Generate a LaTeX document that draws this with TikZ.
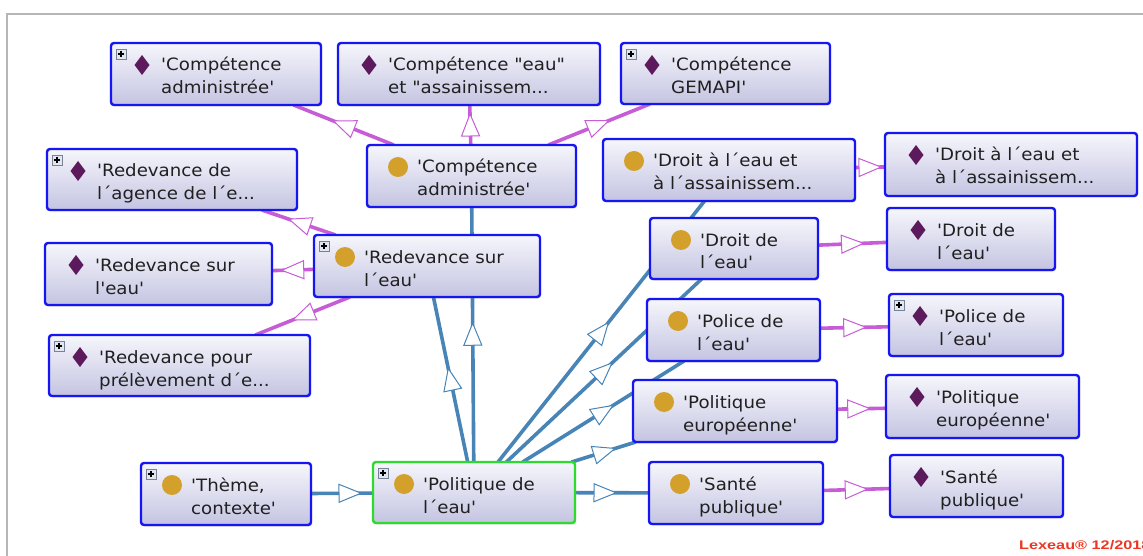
\documentclass[tikz,border=0pt]{standalone}
\usepackage{fontspec}
\newfontfamily\nf{DejaVu Sans}[Ligatures=TeXOff, FakeStretch=1.07]
\newfontfamily\lxf{Liberation Sans}[FakeStretch=1.3]
\usetikzlibrary{calc,backgrounds,shadows}
\definecolor{edgeblue}{RGB}{72,132,182}
\definecolor{edgepurple}{RGB}{198,92,214}
\definecolor{borderblue}{RGB}{22,22,242}
\definecolor{bordergreen}{RGB}{44,220,44}
\definecolor{goldc}{RGB}{212,160,44}
\definecolor{diamc}{RGB}{92,26,92}
\definecolor{textc}{RGB}{32,32,32}
\definecolor{framec}{RGB}{182,182,182}
\definecolor{lexred}{RGB}{235,55,35}
\definecolor{boxtop}{RGB}{246,246,252}
\definecolor{boxbot}{RGB}{196,196,226}
\tikzset{
  obox/.style={draw=borderblue, line width=2.4pt, rounded corners=3pt,
    top color=boxtop, bottom color=boxbot,
    inner sep=0pt, outer sep=0pt,
    drop shadow={shadow xshift=1pt, shadow yshift=-1.5pt, opacity=0.25}},
  greenb/.style={draw=bordergreen},
  blueb/.style={},
  otext/.style={font=\nf\fontsize{17}{23}\selectfont, align=left, inner sep=0pt, text=textc},
  bl/.style={draw=edgeblue, line width=3.6pt},
  pu/.style={draw=edgepurple, line width=3.6pt},
}
\newcommand{\iconcirc}[1]{\fill[goldc] ([shift={(31,22)}]#1.north west) circle (10);}
\newcommand{\icondiam}[1]{\fill[diamc] ([shift={(31,12)}]#1.north west) -- ++(7.5,10) -- ++(-7.5,10) -- ++(-7.5,-10) -- cycle;}
\newcommand{\plusbox}[1]{%
  \draw[line width=0.8pt, draw={rgb,255:red,120;green,130;blue,150}, fill={rgb,255:red,225;green,230;blue,240}]
    ([shift={(5,6)}]#1.north west) rectangle ++(10,10);
  \draw[line width=1.4pt, black] ([shift={(6.8,11)}]#1.north west) -- ++(6.4,0)
    ([shift={(10,7.8)}]#1.north west) -- ++(0,6.4);}
\newcommand{\ocls}[9]{%
  \pgfmathsetmacro\ow{#4-#2}\pgfmathsetmacro\oh{#5-#3}%
  \node[obox,#6,minimum width=\ow pt,minimum height=\oh pt,anchor=north west] (#1) at (#2,#3) {};
  \node[otext, anchor=base west] (#1-t) at ([shift={(50,51)}]#1.north west) {#9};
  \csname icon#7\endcsname{#1}%
  \ifnum#8=1 \plusbox{#1}\fi}
\newcommand{\midtri}[3]{%
  \path ($(#2.center)!0.5!(#3.center)$) coordinate (mm);
  \path ($(mm)!-11pt!(#3.center)$) coordinate (mb);
  \filldraw[draw=#1, fill=white, line width=1pt, line join=miter]
    ($(mm)!11pt!(#3.center)$) -- ($(mb)!9pt!90:(#3.center)$) -- ($(mb)!9pt!-90:(#3.center)$) -- cycle;}
\begin{document}
\begin{tikzpicture}[x=1pt,y=-1pt]
\useasboundingbox (0,0) rectangle (1143,556);
% nodes
\ocls{catop}{111}{43}{321}{105}{blueb}{diam}{1}{'Compétence\\administrée'}
\ocls{ceau}{338}{43}{600}{105}{blueb}{diam}{0}{'Compétence "eau"\\et "assainissem...}
\ocls{cgem}{621}{43}{830}{104}{blueb}{diam}{1}{'Compétence\\GEMAPI'}
\ocls{cac}{367}{145}{576}{207}{blueb}{circ}{0}{'Compétence\\administrée'}
\ocls{dac}{603}{139}{855}{201}{blueb}{circ}{0}{'Droit à l´eau et\\à l´assainissem...}
\ocls{dad}{885}{133}{1137}{196}{blueb}{diam}{0}{'Droit à l´eau et\\à l´assainissem...}
\ocls{rag}{47}{149}{297}{210}{blueb}{diam}{1}{'Redevance de\\l´agence de l´e...}
\ocls{rsc}{314}{235}{540}{297}{blueb}{circ}{1}{'Redevance sur\\l´eau'}
\ocls{rsd}{45}{243}{272}{305}{blueb}{diam}{0}{'Redevance sur\\l'eau'}
\ocls{rpp}{49}{335}{310}{396}{blueb}{diam}{1}{'Redevance pour\\prélèvement d´e...}
\ocls{dec}{650}{218}{818}{279}{blueb}{circ}{0}{'Droit de\\l´eau'}
\ocls{ded}{887}{208}{1055}{270}{blueb}{diam}{0}{'Droit de\\l´eau'}
\ocls{plc}{647}{299}{820}{361}{blueb}{circ}{0}{'Police de\\l´eau'}
\ocls{pld}{889}{294}{1063}{356}{blueb}{diam}{1}{'Police de\\l´eau'}
\ocls{pec}{633}{380}{837}{442}{blueb}{circ}{0}{'Politique\\européenne'}
\ocls{ped}{886}{375}{1079}{438}{blueb}{diam}{0}{'Politique\\européenne'}
\ocls{spc}{649}{462}{823}{524}{blueb}{circ}{0}{'Santé\\publique'}
\ocls{spd}{890}{455}{1063}{517}{blueb}{diam}{0}{'Santé\\publique'}
\ocls{thm}{141}{463}{311}{525}{blueb}{circ}{1}{'Thème,\\contexte'}
\ocls{pol}{373}{462}{575}{523}{greenb}{circ}{1}{'Politique de\\l´eau'}
\node[font=\lxf\bfseries\fontsize{12.5}{14}\selectfont, text=lexred, anchor=base west, inner sep=0pt] (lex) at (1019,549) {Lexeau® 12/2018};
\begin{pgfonlayer}{background}
  \draw[framec, line width=2pt] (1143,14) -- (7,14) -- (7,556);
  % blue edges
  \draw[bl] (thm) -- (pol);
  \draw[bl] (pol) -- (spc);
  \draw[bl] (pol) -- (pec);
  \draw[bl] (pol) -- (plc);
  \draw[bl] (pol) -- (dec);
  \draw[bl] (pol) -- (dac);
  \draw[bl] (pol) -- (rsc);
  \draw[bl] (pol) -- (cac);
  % purple edges
  \draw[pu] (cac) -- (catop);
  \draw[pu] (cac) -- (ceau);
  \draw[pu] (cac) -- (cgem);
  \draw[pu] (dac) -- (dad);
  \draw[pu] (rsc) -- (rag);
  \draw[pu] (rsc) -- (rsd);
  \draw[pu] (rsc) -- (rpp);
  \draw[pu] (dec) -- (ded);
  \draw[pu] (plc) -- (pld);
  \draw[pu] (pec) -- (ped);
  \draw[pu] (spc) -- (spd);
  % arrow heads
  \midtri{edgeblue}{thm}{pol}
  \midtri{edgeblue}{pol}{spc}
  \midtri{edgeblue}{pol}{pec}
  \midtri{edgeblue}{pol}{plc}
  \midtri{edgeblue}{pol}{dec}
  \midtri{edgeblue}{pol}{dac}
  \midtri{edgeblue}{pol}{rsc}
  \midtri{edgeblue}{pol}{cac}
  \midtri{edgepurple}{cac}{catop}
  \midtri{edgepurple}{cac}{ceau}
  \midtri{edgepurple}{cac}{cgem}
  \midtri{edgepurple}{dac}{dad}
  \midtri{edgepurple}{rsc}{rag}
  \midtri{edgepurple}{rsc}{rsd}
  \midtri{edgepurple}{rsc}{rpp}
  \midtri{edgepurple}{dec}{ded}
  \midtri{edgepurple}{plc}{pld}
  \midtri{edgepurple}{pec}{ped}
  \midtri{edgepurple}{spc}{spd}
\end{pgfonlayer}
\end{tikzpicture}
\end{document}
